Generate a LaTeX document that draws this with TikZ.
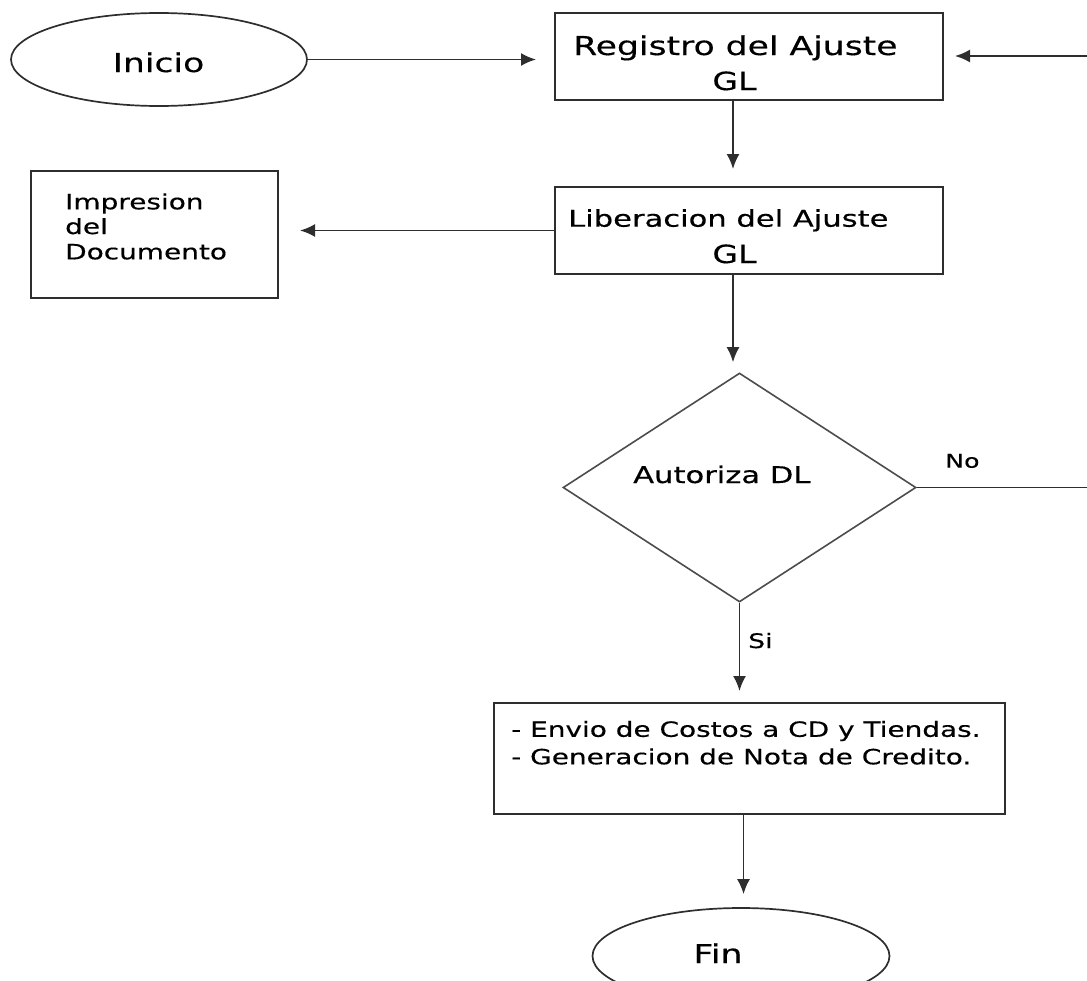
\documentclass[tikz,border=0pt]{standalone}
\usepackage{fontspec}
\setmainfont{DejaVu Sans}[FakeStretch=1.33, FakeBold=0.4]
\usetikzlibrary{shapes.geometric,arrows.meta,calc}

\begin{document}
\begin{tikzpicture}[x=1pt,y=-1pt,
  ink/.style={draw=black!82},
  shapebox/.style={ink, line width=2pt, rectangle, inner sep=0pt},
  oval/.style={ink, line width=1.7pt, ellipse, inner sep=0pt},
  decision/.style={draw=black!70, line width=1.6pt, diamond, inner sep=0pt},
  conn/.style={ink, line width=1.9pt},
  arr/.style={conn, -{Latex[length=15pt,width=13pt]}},
  txt/.style={inner sep=0pt, text=black},
  fs/.style={font=\fontsize{#1}{#1}\selectfont}
]
\useasboundingbox (0,0) rectangle (1087,980);
\clip (0,0) rectangle (1087,980);

% shapes
\node[oval, minimum width=296pt, minimum height=93pt] (ini) at (159,59.5) {};
\node[shapebox, minimum width=388pt, minimum height=87pt] (reg) at (749,56.5) {};
\node[shapebox, minimum width=388pt, minimum height=87pt] (lib) at (749,230.5) {};
\node[shapebox, minimum width=247pt, minimum height=127pt] (imp) at (154.5,234.5) {};
\node[decision, minimum width=353pt, minimum height=229pt] (dia) at (739.5,487.5) {};
\node[shapebox, minimum width=511pt, minimum height=111pt] (act) at (749.5,758.5) {};
\node[oval, minimum width=297pt, minimum height=96pt] (fin) at (741,956) {};

% texts
\node[txt, fs=26, anchor=base] (tini) at (158.5,72) {Inicio};
\node[txt, fs=26, anchor=base west] (treg) at (573,55) {Registro del Ajuste};
\node[txt, fs=25, anchor=base] (tregb) at (734.5,90) {GL};
\node[txt, fs=23, anchor=base west] (tlib) at (568,226.7) {Liberacion del Ajuste};
\node[txt, fs=25, anchor=base] (tlibb) at (734.5,263) {GL};
\node[txt, fs=21, anchor=base west] (timp1) at (65,209.3) {Impresion};
\node[txt, fs=21, anchor=base west] (timp2) at (65,234) {del};
\node[txt, fs=21, anchor=base west] (timp3) at (65,259.3) {Documento};
\node[txt, fs=23, anchor=base west] (tdia) at (633,483) {Autoriza DL};
\node[txt, fs=21, anchor=base west] (tact1) at (511,736.8) {- Envio de Costos a CD y Tiendas.};
\node[txt, fs=21, anchor=base west] (tact2) at (511,764.3) {- Generacion de Nota de Credito.};
\node[txt, fs=26, anchor=base] (tfin) at (718,963) {Fin};

% connectors
\coordinate (rin) at (1087,56);
\coordinate (rout) at (1087,489);
\coordinate (r1) at ($(reg.south)+(-16,0)$);
\coordinate (l1) at ($(lib.south)+(-16,0)$);
\coordinate (a1) at ($(act.south)+(-6,0)$);

\draw[arr, shorten >=18pt] (ini.east) -- (ini.east -| reg.west);
\draw[arr, shorten >=11pt] (rin) -- (rin -| reg.east);
\draw[arr, shorten >=17pt] (r1) -- (r1 |- lib.north);
\draw[arr, shorten >=21pt] (lib.west) -- (lib.west -| imp.east);
\draw[arr, shorten >=10pt] (l1) -- (l1 |- dia.north);
\draw[arr, shorten >=11pt] (dia.south) -- (dia.south |- act.north);
\draw[conn] (dia.east) -- (dia.east -| rout);
\draw[arr, shorten >=13pt] (a1) -- (a1 |- fin.north);

% branch labels
\node[txt, fs=19, anchor=base west] (lno) at (945,467.7) {No};
\node[txt, fs=20, anchor=base west] (lsi) at (748,648) {Si};
\end{tikzpicture}
\end{document}
